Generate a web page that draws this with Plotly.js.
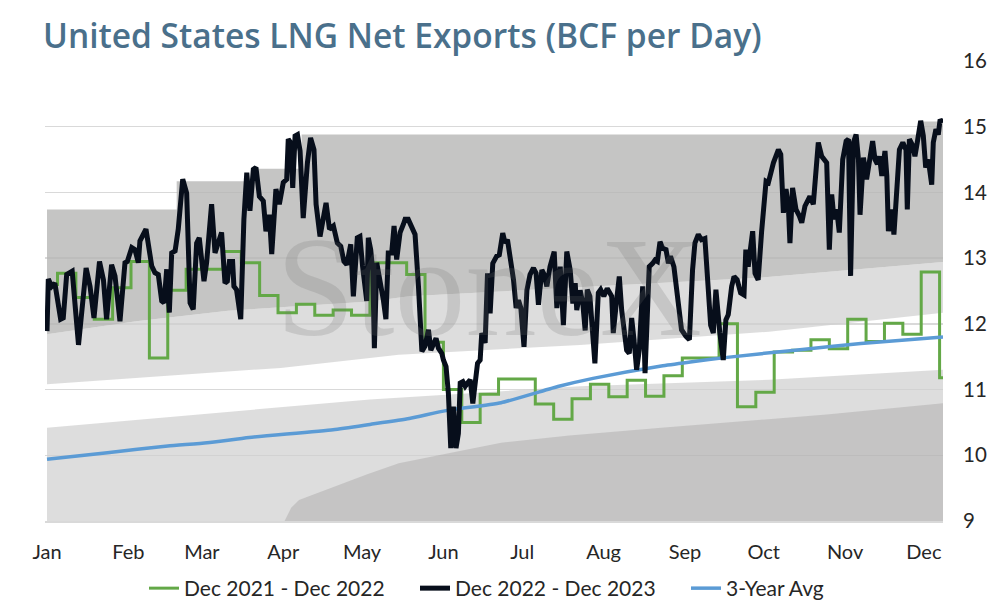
<!DOCTYPE html>
<html>
<head>
<meta charset="utf-8">
<script src="https://cdn.plot.ly/plotly-3.0.1.min.js"></script>
<style>html,body{margin:0;padding:0;background:#fff;}#chart{width:994px;height:606px;}</style>
</head>
<body>
<div id="chart"></div>
<script>
// Month ticks (x = day of year)
const monthNames = ['Jan','Feb','Mar','Apr','May','Jun','Jul','Aug','Sep','Oct','Nov','Dec'];
const monthDays  = [1,32,60,91,121,152,182,213,244,274,305,335];

// Dec 2022 - Dec 2023 (black)
const blkDay = [1,1.5,2.8,4,6.2,7.2,8.5,10.6,13,15.9,17.4,18.9,21,22.5,23.7,25.6,26.9,28.8,30.7,31.6,33.3,34.5,35.8,36.4,38.7,40.9,42.1,43.4,44.7,45.6,46.6,47.6,48.5,49.8,51,52.7,54.2,55.5,56.7,58,59,60.8,61.8,63.7,65,67.5,68.8,69.7,70.5,71.7,72.2,73.2,74.8,76,77.1,78.3,79.6,80.6,81.9,83.4,84.4,85.7,86.6,88.2,89.5,91,92.3,92.9,93.8,94.6,95.5,96.4,97.4,98.6,100.2,101.4,102.7,103.5,105,106.3,107.3,108.6,110.1,111.6,112.9,114.1,115.2,116.7,117.7,119.2,120.2,121.2,122.8,123.4,124.3,125.1,125.7,126.6,127.9,129.1,130.1,131,132.3,133.2,134.2,135.5,136.8,137.4,138.6,139.5,141.2,142.5,143.8,145,146.3,147.2,148.2,149.2,150.1,151.4,152,153,153.9,154.8,155.8,156.8,157.7,158.4,159.4,160.3,161.2,162.2,163.2,164.1,165,166,166.6,167.9,168.8,169.8,170.8,172.3,173.3,174.6,175.5,176.4,177.4,178.7,179.7,180.6,181.5,182.7,183.8,185,186.3,187.3,188.2,189.5,190.4,191.4,192.6,194.2,195.2,196.5,197.7,199,200.3,201.3,202.2,202.8,204.1,205.1,206,206.8,207.8,209.7,211,211.9,213.1,214.4,216.1,216.7,218,219,219.9,221.8,222.8,223.7,224.6,225.6,226.6,227.9,228.8,230.4,231.7,232.6,233.5,234.5,235.5,236.8,237.7,238.5,239.8,241.5,242.7,244.4,245.7,246.9,247.8,249.1,250.3,251.6,252.5,253.8,254.8,255.8,257.3,258.6,259.6,260.5,261.8,262.7,263.9,265.2,266.5,267.2,268.1,269,269.8,270.7,271.9,273.2,273.9,274.9,275.8,277.7,279.6,280.5,281.5,282.5,283.4,284,285,286.3,287.6,288.5,289.7,291.6,292.9,293.9,294.8,296.1,297.4,298,299,299.9,300.8,301.8,302.8,304.1,305.4,306.3,307.1,308.2,309.2,310.1,310.7,312,313.2,314.5,315.5,316.4,317.3,318.1,319,320.2,320.9,321.5,322.8,323.6,324.7,325.7,327,328.2,328.7,329.5,330.8,331.6,332.5,333.8,334.8,335.7,336.7,338,338.6,339.6,340.5,341.2,342.2];
const blkVal = [11.89,12.68,12.57,12.62,12.07,12.09,12.75,12.8,11.68,12.85,12.57,12.09,12.95,12.67,12.07,12.9,12.73,12.04,12.93,12.95,13.16,13.13,12.93,13.26,13.44,12.88,12.78,12.75,12.35,12.32,12.83,12.17,13.08,13.11,13.44,14.2,13.99,12.32,12.22,13.23,13.31,12.65,12.93,13.82,13.08,13.39,12.62,12.65,12.95,12.95,12.57,12.52,12.07,13.59,14.3,13.72,14.35,14.38,13.94,13.87,13.41,13.66,13.06,14.05,13.82,14.15,14.2,14.81,14.76,14.07,14.86,14.88,14.63,13.61,14.45,14.83,14.65,13.82,13.33,13.64,13.84,13.44,13.49,13.23,13.18,12.95,12.9,13.21,12.42,13.31,13.33,12.88,12.35,13.31,13.13,12.8,11.63,12.93,12.68,12.37,12.07,13.08,13.08,13.49,12.98,13.39,13.52,13.59,13.59,13.5,13.36,12.57,11.58,11.66,11.91,11.6,11.7,11.78,11.63,11.55,11.45,11.35,10.94,10.11,10.74,10.11,10.33,11.1,11.12,11.05,11.1,11.15,10.79,11.1,11.4,11.45,11.86,11.71,12.77,12.16,12.92,13.03,13.05,13.38,13.23,13.28,13.03,12.67,12.24,12.36,12.24,11.65,12.51,12.75,12.85,12.77,12.29,12.82,12.75,12.57,12.87,13.1,12.24,12.87,11.98,13.1,12.82,12.31,12.62,12.21,12.51,12.31,11.9,12.52,12.42,11.4,12.47,12.52,12.42,12.54,12.42,11.86,12.37,12.72,12.21,11.6,11.55,12.09,11.76,11.3,11.6,12.57,11.25,12.87,12.92,12.97,12.95,13.25,13.15,13.13,12.92,13.03,12.87,12.37,11.91,11.81,11.76,12.82,13.23,13.36,13.28,13.3,12.77,11.98,11.86,12.52,11.86,11.45,12.06,12.14,12.57,12.72,12.67,12.47,12.44,13.13,12.87,13.13,13.41,12.77,12.67,13.4,13.74,14.17,14.15,14.45,14.65,14.58,13.69,14.05,13.79,13.23,14.07,13.74,13.64,13.54,13.79,13.94,13.82,14.35,14.76,14.55,14.48,14.45,13.13,13.97,13.59,13.74,13.39,14.5,14.78,14.81,12.73,14.76,14.88,14.5,13.66,14.53,14.2,14.5,14.78,14.5,14.43,14.55,14.25,14.63,14.25,13.41,13.74,13.36,13.99,14.65,14.76,14.65,13.74,14.81,14.71,14.55,14.76,15.09,14.86,14.38,14.5,14.12,14.76,14.96,14.88,15.11,15.06];

// Dec 2021 - Dec 2022 (green, weekly steps: start day of each week)
const grnDay = [1,5,12,19,26,33,40,47,54,61,68,75,82,89,96,103,110,117,124,131,138,145,152,159,166,173,180,187,194,201,208,215,222,229,236,243,250,257,264,271,278,285,292,299,306,313,320,327,334,341,342.3];
const grnVal = [12.6,12.77,12.40,12.07,12.55,12.95,11.48,12.51,12.83,12.83,13.1,12.93,12.43,12.17,12.3,12.13,12.21,12.13,12.93,12.93,12.75,11.72,11.0,10.5,10.93,11.16,11.16,10.78,10.55,10.86,11.08,10.89,11.14,10.9,11.21,11.48,11.48,12.0,10.74,10.96,11.57,11.6,11.76,11.62,12.07,11.73,12.01,11.84,12.79,11.18,11.18];

// 3-Year Avg (blue)
const avgDay = [1,24,47,62,78,110,124,139,153,174,196,209,235,246,260,286,311,342.3];
const avgVal = [9.94,10.04,10.14,10.19,10.27,10.39,10.47,10.56,10.68,10.8,11.05,11.17,11.36,11.42,11.49,11.6,11.7,11.8];

// Range bands
const maxDay = [1,50.4,81.5,98,334,342.3];
const maxVal = [13.74,14.17,14.36,14.88,15.08,15.08];
const upDay  = [1,35,70,124,139,200,272,342.3];
const upVal  = [11.84,12.04,12.2,12.34,12.42,12.55,12.7,12.94];
const midUpDay = [1,90,135,204,276,342.3];
const midUpVal = [11.08,11.33,11.53,11.68,11.88,12.17];
const midLoDay = [1,124,204,276,342.3];
const midLoVal = [10.42,10.85,11.05,11.15,11.3];
const minDay = [91.5,94,97,110,123,135,148,161,174,200,235,298,342.3];
const minVal = [9.0,9.2,9.32,9.52,9.71,9.88,9.98,10.09,10.19,10.3,10.42,10.62,10.79];

const FONT = 'Lato, "Open Sans", sans-serif';
const TITLE_FONT = '"Open Sans", Lato, sans-serif';
const DARK = 'rgba(182,181,180,0.79)';
const LIGHT = 'rgba(207,207,207,0.71)';
const DARK_ON_LIGHT = 'rgba(132,131,130,0.27)';

const band = (x, y, extra) => Object.assign({
  x: x, y: y, type: 'scatter', mode: 'lines', line: {width: 0},
  hoverinfo: 'skip', showlegend: false
}, extra || {});

const traces = [
  band(midUpDay, midUpVal),
  band(upDay, upVal, {fill: 'tonexty', fillcolor: LIGHT}),
  band(maxDay, maxVal, {fill: 'tonexty', fillcolor: DARK, line: {width: 0, shape: 'hv'}}),
  band(midLoDay, midLoVal, {fill: 'tozeroy', fillcolor: LIGHT}),
  band(minDay, minVal, {fill: 'tozeroy', fillcolor: DARK_ON_LIGHT}),
  {x: grnDay, y: grnVal, type: 'scatter', mode: 'lines', name: 'Dec 2021 - Dec 2022',
   line: {color: '#63a847', width: 3, shape: 'hv'}, legendrank: 1},
  {x: avgDay, y: avgVal, type: 'scatter', mode: 'lines', name: '3-Year Avg',
   line: {color: '#5b9bd5', width: 3.5, shape: 'spline', smoothing: 0.5}, legendrank: 3},
  {x: blkDay, y: blkVal, type: 'scatter', mode: 'lines', name: 'Dec 2022 - Dec 2023',
   line: {color: '#070e1b', width: 5, shape: 'linear'}, legendrank: 2}
];

const layout = {
  width: 994, height: 606,
  paper_bgcolor: '#ffffff', plot_bgcolor: '#ffffff',
  margin: {l: 45, r: 51, t: 61, b: 85},
  font: {family: FONT, color: '#262626', size: 20},
  title: {
    text: 'United States LNG Net Exports (BCF per Day)',
    font: {family: TITLE_FONT, size: 33.5, color: '#4a708b', weight: 600},
    x: 43/994, xref: 'container', xanchor: 'left',
    y: 1 - 25/606, yref: 'container', yanchor: 'top'
  },
  xaxis: {
    range: [0.24, 342.3], tickvals: monthDays, ticktext: monthNames,
    showgrid: false, zeroline: false, showline: true, linecolor: '#d9d9d9', linewidth: 1.5,
    ticks: '', ticklabelstandoff: 12, tickfont: {size: 20, color: '#262626', family: FONT},
    fixedrange: true
  },
  yaxis: {
    side: 'right', range: [9, 16], dtick: 1, tick0: 9,
    showgrid: true, gridcolor: '#d9d9d9', gridwidth: 1.5, zeroline: false, showline: false,
    ticks: '', ticklabelstandoff: 19, tickfont: {size: 20.5, color: '#262626', family: FONT},
    fixedrange: true
  },
  legend: {
    orientation: 'h', xref: 'container', yref: 'container',
    x: 144/994, xanchor: 'left', y: 1 - 568/606, yanchor: 'top',
    font: {size: 21, color: '#262626', family: FONT},
    entrywidth: 226, entrywidthmode: 'pixels',
    traceorder: 'normal', bgcolor: 'rgba(0,0,0,0)'
  },
  annotations: [{
    text: 'StoneX', xref: 'paper', yref: 'paper', x: 0.494, y: 0.508,
    xanchor: 'center', yanchor: 'middle', showarrow: false,
    font: {family: '"Liberation Serif", "DejaVu Serif", serif', size: 142, color: 'rgba(110,110,110,0.2)'}
  }],
  showlegend: true
};

Plotly.newPlot('chart', traces, layout, {displayModeBar: false, staticPlot: true});
</script>
</body>
</html>
